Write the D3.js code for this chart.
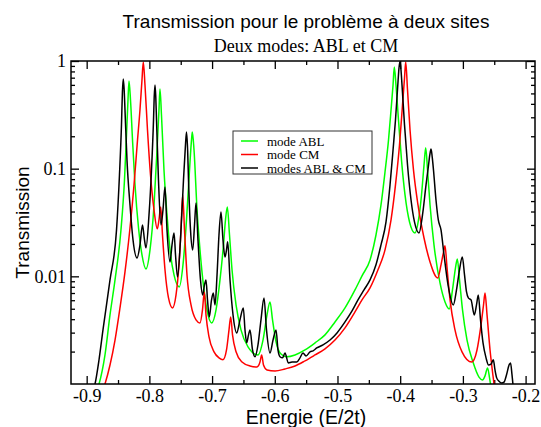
<!DOCTYPE html>
<html><head><meta charset="utf-8">
<script src="https://cdn.jsdelivr.net/npm/d3@7"></script>
<style>body{margin:0;background:#fff}svg{display:block}</style>
</head><body>
<svg id="chart" width="541" height="427"></svg>
<script>
// ---- data (energy E/2t, transmission) ----
const seriesNames = ["mode ABL", "mode CM", "modes ABL & CM"];
const seriesColors = ["#00ff00", "#ff0000", "#000000"];
const xMajorTicks = [-0.9, -0.8, -0.7, -0.6, -0.5, -0.4, -0.3, -0.2];
const xTickLabels = ["-0.9", "-0.8", "-0.7", "-0.6", "-0.5", "-0.4", "-0.3", "-0.2"];
const yMajorTicks = [1, 0.1, 0.01];
const yTickLabels = ["1", "0.1", "0.01"];

const modeABL = [
[-0.8883,0.00079],[-0.8803,0.00100],[-0.8708,0.00186],[-0.8628,0.00438],[-0.8548,0.00926],[-0.8453,0.0270],
[-0.8397,0.0785],[-0.8365,0.206],[-0.8341,0.435],[-0.8325,0.652],[-0.8301,0.435],[-0.8269,0.185],[-0.8229,0.0706],
[-0.8173,0.0281],[-0.8118,0.0158],[-0.8054,0.0117],[-0.7990,0.0176],[-0.7926,0.0460],[-0.7878,0.149],[-0.7847,0.351],
[-0.7831,0.550],[-0.7807,0.315],[-0.7767,0.0973],[-0.7719,0.0372],[-0.7671,0.0176],[-0.7607,0.0103],[-0.7523,0.00798],
[-0.7464,0.0128],[-0.7408,0.0334],[-0.7360,0.0973],[-0.7328,0.185],[-0.7315,0.219],[-0.7288,0.149],[-0.7240,0.0414],
[-0.7193,0.0176],[-0.7129,0.00748],[-0.7065,0.00438],[-0.7006,0.00369],[-0.6937,0.00488],[-0.6874,0.00926],
[-0.6818,0.0196],[-0.6786,0.0334],[-0.6757,0.0441],[-0.6722,0.0242],[-0.6682,0.0115],[-0.6618,0.00542],[-0.6539,0.00318],
[-0.6427,0.00221],[-0.6268,0.00186],[-0.6188,0.00256],[-0.6124,0.00438],[-0.6076,0.00578],[-0.6036,0.00394],
[-0.5980,0.00246],[-0.5901,0.00190],[-0.5810,0.00179],[-0.5677,0.00186],[-0.5518,0.00207],[-0.5358,0.00241],
[-0.5199,0.00286],[-0.5040,0.00377],[-0.4880,0.00509],[-0.4721,0.00748],[-0.4609,0.0101],[-0.4481,0.0142],
[-0.4386,0.0242],[-0.4306,0.0460],[-0.4242,0.0932],[-0.4186,0.185],[-0.4146,0.351],[-0.4114,0.599],[-0.4094,0.880],
[-0.4067,0.599],[-0.4027,0.283],[-0.3979,0.120],[-0.3923,0.0570],[-0.3851,0.0320],[-0.3764,0.0253],[-0.3708,0.0334],
[-0.3660,0.0570],[-0.3620,0.108],[-0.3593,0.156],[-0.3564,0.0973],[-0.3524,0.0460],[-0.3461,0.0196],[-0.3365,0.00868],
[-0.3285,0.00578],[-0.3217,0.00498],[-0.3166,0.00748],[-0.3118,0.0120],[-0.3089,0.0145],[-0.3054,0.00926],
[-0.3006,0.00488],[-0.2934,0.00256],[-0.2839,0.00160],[-0.2743,0.00116],[-0.2687,0.00109],[-0.2647,0.00119],
[-0.2607,0.00141],[-0.2575,0.00114],[-0.2543,0.000845]
];

const modeCM = [
[-0.8772,0.00079],[-0.8708,0.00100],[-0.8628,0.00150],[-0.8548,0.00256],[-0.8469,0.00509],[-0.8389,0.0110],
[-0.8309,0.0281],[-0.8245,0.0706],[-0.8189,0.185],[-0.8150,0.351],[-0.8118,0.666],[-0.8097,0.979],[-0.8070,0.599],
[-0.8030,0.229],[-0.7982,0.0874],[-0.7926,0.0414],[-0.7874,0.0276],[-0.7847,0.0334],[-0.7819,0.0441],[-0.7791,0.0242],
[-0.7751,0.0115],[-0.7695,0.00630],[-0.7631,0.00509],[-0.7575,0.00672],[-0.7528,0.0128],[-0.7496,0.0270],
[-0.7469,0.0570],[-0.7440,0.0270],[-0.7400,0.0103],[-0.7336,0.00542],[-0.7256,0.00394],[-0.7193,0.00369],
[-0.7153,0.00488],[-0.7124,0.00716],[-0.7097,0.00438],[-0.7049,0.00274],[-0.6969,0.00199],[-0.6890,0.00175],
[-0.6826,0.00168],[-0.6770,0.00207],[-0.6730,0.00318],[-0.6703,0.00420],[-0.6674,0.00286],[-0.6618,0.00199],
[-0.6523,0.00160],[-0.6395,0.00147],[-0.6284,0.00144],[-0.6236,0.00160],[-0.6209,0.00186],[-0.6180,0.00150],
[-0.6124,0.00135],[-0.5996,0.00132],[-0.5837,0.00138],[-0.5677,0.00147],[-0.5518,0.00164],[-0.5358,0.00186],
[-0.5199,0.00212],[-0.5040,0.00256],[-0.4880,0.00332],[-0.4721,0.00467],[-0.4609,0.00604],[-0.4481,0.00781],
[-0.4354,0.0115],[-0.4242,0.0176],[-0.4146,0.0334],[-0.4075,0.0706],[-0.4011,0.166],[-0.3963,0.390],[-0.3931,0.695],
[-0.3912,0.979],[-0.3883,0.538],[-0.3843,0.229],[-0.3788,0.0973],[-0.3716,0.0460],[-0.3620,0.0227],[-0.3524,0.0136],
[-0.3402,0.00966],[-0.3349,0.0128],[-0.3309,0.0168],[-0.3285,0.0192],[-0.3253,0.0120],[-0.3205,0.00604],
[-0.3126,0.00318],[-0.3014,0.00199],[-0.2859,0.00160],[-0.2775,0.00207],[-0.2711,0.00354],[-0.2671,0.00542],
[-0.2647,0.00701],[-0.2615,0.00438],[-0.2567,0.00207],[-0.2528,0.00130],[-0.2504,0.00100],[-0.2488,0.00079]
];

const modesABLCM = [
[-0.8947,0.00079],[-0.8867,0.00100],[-0.8803,0.00168],[-0.8740,0.00318],[-0.8628,0.00926],[-0.8524,0.0270],
[-0.8477,0.0874],[-0.8445,0.255],[-0.8430,0.516],[-0.8416,0.681],[-0.8402,0.538],[-0.8389,0.351],[-0.8357,0.120],
[-0.8309,0.0460],[-0.8261,0.0218],
[-0.8197,0.0148],[-0.8150,0.0196],[-0.8110,0.0300],[-0.8078,0.0218],[-0.8054,0.0184],[-0.8006,0.0372],[-0.7966,0.0973],
[-0.7934,0.283],[-0.7923,0.463],[-0.7910,0.599],[-0.7898,0.463],[-0.7886,0.283],[-0.7855,0.0785],[-0.7815,0.0300],
[-0.7783,0.0414],[-0.7751,0.0676],
[-0.7719,0.0270],[-0.7671,0.0136],[-0.7639,0.0196],[-0.7607,0.0253],[-0.7583,0.0158],[-0.7551,0.00987],[-0.7504,0.0218],
[-0.7456,0.0785],[-0.7427,0.156],[-0.7408,0.219],[-0.7390,0.149],[-0.7376,0.0785],[-0.7344,0.0270],[-0.7309,0.0176],
[-0.7280,0.0300],[-0.7256,0.0481],
[-0.7225,0.0218],[-0.7185,0.00926],[-0.7150,0.00672],[-0.7121,0.00832],[-0.7097,0.00926],[-0.7073,0.00604],
[-0.7044,0.00420],[-0.7009,0.00604],[-0.6981,0.00701],[-0.6953,0.00542],[-0.6921,0.0103],[-0.6890,0.0242],
[-0.6858,0.0396],[-0.6826,0.0218],[-0.6794,0.0151],[-0.6770,0.0176],[-0.6751,0.0209],[-0.6714,0.00926],[-0.6666,0.00438],
[-0.6607,0.00298],[-0.6555,0.00394],[-0.6502,0.00509],[-0.6475,0.00318],[-0.6448,0.00241],[-0.6419,0.00286],
[-0.6395,0.00318],[-0.6355,0.00207],[-0.6315,0.00179],[-0.6268,0.00231],[-0.6220,0.00394],[-0.6172,0.00630],
[-0.6132,0.00318],[-0.6076,0.00194],[-0.6028,0.00256],[-0.5980,0.00318],[-0.5949,0.00207],[-0.5917,0.00179],
[-0.5877,0.00175],[-0.5837,0.00194],[-0.5784,0.00157],[-0.5725,0.00160],[-0.5650,0.00160],[-0.5598,0.00175],
[-0.5550,0.00194],[-0.5502,0.00182],[-0.5438,0.00199],[-0.5390,0.00203],[-0.5331,0.00216],[-0.5231,0.00231],
[-0.5119,0.00256],[-0.5008,0.00298],[-0.4880,0.00377],[-0.4768,0.00477],[-0.4673,0.00604],[-0.4577,0.00748],
[-0.4481,0.00926],[-0.4386,0.0128],[-0.4306,0.0196],[-0.4226,0.0320],[-0.4162,0.0706],[-0.4114,0.149],[-0.4075,0.283],
[-0.4035,0.638],[-0.4019,0.861],[-0.4003,0.99],[-0.3987,0.825],[-0.3971,0.599],[-0.3931,0.255],[-0.3883,0.108],
[-0.3827,0.0512],[-0.3772,0.0320],
[-0.3700,0.0253],[-0.3644,0.0372],[-0.3588,0.0706],[-0.3548,0.108],[-0.3528,0.134],[-0.3508,0.152],[-0.3489,0.128],
[-0.3469,0.0973],[-0.3429,0.0512],
[-0.3392,0.0334],[-0.3349,0.0270],[-0.3301,0.0158],[-0.3237,0.00832],[-0.3153,0.00542],[-0.3102,0.00748],
[-0.3054,0.0115],[-0.3009,0.0151],[-0.2974,0.0103],[-0.2942,0.00716],[-0.2913,0.00630],[-0.2870,0.00604],
[-0.2818,0.00438],[-0.2783,0.00542],[-0.2754,0.00672],[-0.2719,0.00394],[-0.2679,0.00241],[-0.2631,0.00175],
[-0.2591,0.00150],[-0.2551,0.00153],[-0.2515,0.00168],[-0.2488,0.00135],[-0.2461,0.00114],[-0.2424,0.00106],
[-0.2381,0.00102],[-0.2344,0.00104],[-0.2304,0.00122],[-0.2264,0.00150],[-0.2240,0.00157],[-0.2217,0.00122],
[-0.2193,0.00088]
];

const seriesData = [modeABL, modeCM, modesABLCM];

// ---- layout ----
const W = 541, H = 427;
const L = 71, R = 535, T = 61, B = 384;
const svg = d3.select("#chart");
const x = d3.scaleLinear().domain([-0.925, -0.185]).range([L, R]);
const y = d3.scaleLog().domain([0.001, 1]).range([B, T]);

const serif = "'Liberation Serif','Times New Roman',serif";
const sans = "'Liberation Sans',Arial,Helvetica,sans-serif";

svg.append("rect").attr("width", W).attr("height", H).attr("fill", "#fff");

svg.append("clipPath").attr("id", "clip").append("rect")
  .attr("x", L).attr("y", T).attr("width", R - L).attr("height", B - T);

const xMinor = d3.range(-0.9, -0.18, 0.05).map(v => +v.toFixed(2)).filter(v => xMajorTicks.indexOf(v) < 0);
const yMinor = [];
[0.001, 0.01, 0.1].forEach(d => { for (let k = 2; k <= 9; k++) yMinor.push(d * k); });

function styleAxis(g) {
  g.select(".domain").remove();
  g.selectAll(".tick line").attr("stroke", "#000").attr("stroke-width", 1.3);
  g.selectAll("text").attr("font-family", serif).attr("font-size", 18).attr("fill", "#000");
}

// bottom
svg.append("g").attr("transform", `translate(0,${B})`)
  .call(d3.axisBottom(x).tickValues(xMajorTicks).tickSize(-8).tickPadding(5)
    .tickFormat((d, i) => xTickLabels[i]))
  .call(styleAxis);
svg.append("g").attr("transform", `translate(0,${B})`)
  .call(d3.axisBottom(x).tickValues(xMinor).tickSize(-4).tickFormat(""))
  .call(styleAxis);
// top
svg.append("g").attr("transform", `translate(0,${T})`)
  .call(d3.axisTop(x).tickValues(xMajorTicks).tickSize(-8).tickFormat(""))
  .call(styleAxis);
svg.append("g").attr("transform", `translate(0,${T})`)
  .call(d3.axisTop(x).tickValues(xMinor).tickSize(-4).tickFormat(""))
  .call(styleAxis);
// left
svg.append("g").attr("transform", `translate(${L},0)`)
  .call(d3.axisLeft(y).tickValues(yMajorTicks).tickSize(-8).tickPadding(5)
    .tickFormat((d, i) => yTickLabels[i]))
  .call(styleAxis);
svg.append("g").attr("transform", `translate(${L},0)`)
  .call(d3.axisLeft(y).tickValues(yMinor).tickSize(-4).tickFormat(""))
  .call(styleAxis);
// right
svg.append("g").attr("transform", `translate(${R},0)`)
  .call(d3.axisRight(y).tickValues(yMajorTicks).tickSize(-8).tickFormat(""))
  .call(styleAxis);
svg.append("g").attr("transform", `translate(${R},0)`)
  .call(d3.axisRight(y).tickValues(yMinor).tickSize(-4).tickFormat(""))
  .call(styleAxis);

// curves
const line = d3.line().curve(d3.curveMonotoneX).x(d => x(d[0])).y(d => y(d[1]));
const curves = svg.append("g").attr("clip-path", "url(#clip)");
seriesData.forEach((s, i) => {
  curves.append("path").datum(s).attr("d", line)
    .attr("fill", "none").attr("stroke", seriesColors[i])
    .attr("stroke-width", 1.5).attr("stroke-linejoin", "round");
});

// frame
svg.append("rect").attr("x", L).attr("y", T).attr("width", R - L).attr("height", B - T)
  .attr("fill", "none").attr("stroke", "#000").attr("stroke-width", 1.5);

// titles
const cx = (L + R) / 2 + 3;
svg.append("text").attr("x", cx).attr("y", 28).attr("text-anchor", "middle")
  .attr("font-family", sans).attr("font-size", 19).text("Transmission pour le problème à deux sites");
svg.append("text").attr("x", cx).attr("y", 52).attr("text-anchor", "middle")
  .attr("font-family", serif).attr("font-size", 18).text("Deux modes: ABL et CM");
svg.append("text").attr("x", cx).attr("y", 424).attr("text-anchor", "middle")
  .attr("font-family", sans).attr("font-size", 19.5).text("Energie (E/2t)");
svg.append("text").attr("transform", `translate(29,${(T + B) / 2}) rotate(-90)`).attr("text-anchor", "middle")
  .attr("font-family", sans).attr("font-size", 19).text("Transmission");

// legend
const lg = svg.append("g");
lg.append("rect").attr("x", 233).attr("y", 131).attr("width", 139).attr("height", 43)
  .attr("fill", "#fff").attr("stroke", "#333").attr("stroke-width", 1);
seriesNames.forEach((n, i) => {
  const yy = 141 + i * 13.5;
  lg.append("line").attr("x1", 241).attr("x2", 258).attr("y1", yy).attr("y2", yy)
    .attr("stroke", seriesColors[i]).attr("stroke-width", 1.5);
  lg.append("text").attr("x", 267).attr("y", yy + 4.5).attr("font-family", serif)
    .attr("font-size", 13).text(n);
});
</script>
</body></html>
